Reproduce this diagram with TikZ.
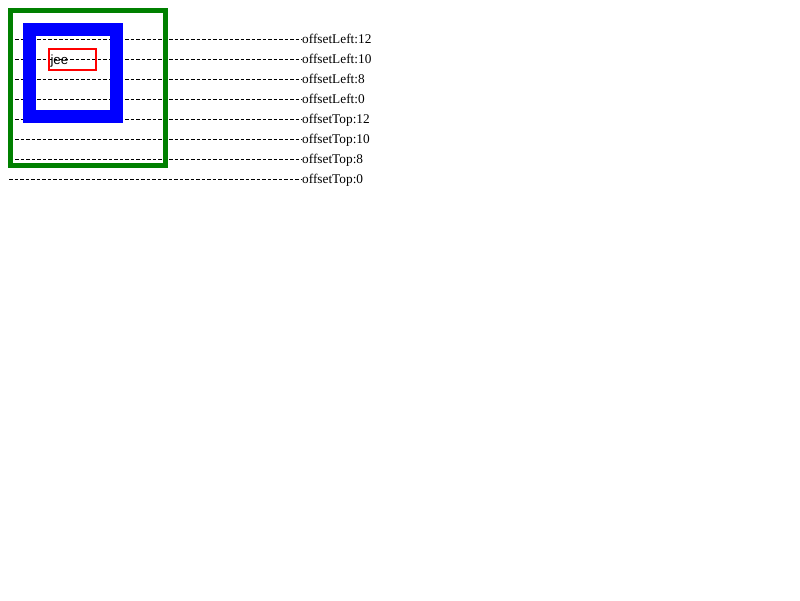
\documentclass[tikz,border=0pt]{standalone}
\usepackage{fontspec}
\setmainfont{Liberation Serif}
\newfontfamily\jeefont{Liberation Sans}
\definecolor{boxgreen}{RGB}{0,128,0}
\definecolor{boxblue}{RGB}{0,0,255}
\definecolor{boxred}{RGB}{255,0,0}
\begin{document}
\begin{tikzpicture}[x=1pt,y=-1pt,
  dashline/.style={line width=1pt,dash pattern=on 3.7pt off 1.8pt},
  lbl/.style={anchor=base west,inner sep=0pt,font=\fontsize{13.3}{15}\selectfont},
  greenbox/.style={draw=boxgreen,line width=4.6pt},
  bluebox/.style={draw=boxblue,line width=12.7pt},
  redbox/.style={draw=boxred,line width=2pt,outer sep=0pt,inner sep=0pt}]
\useasboundingbox (0,0) rectangle (800,600);
% labels and dashed lines
\foreach \i/\yy/\xs/\t in {1/39.5/15/offsetLeft:12, 2/59.5/15/offsetLeft:10, 3/79.5/15/offsetLeft:8, 4/99.5/15/offsetLeft:0, 5/119.5/15/offsetTop:12, 6/139.5/15/offsetTop:10, 7/159.5/15/offsetTop:8, 8/179.5/9/offsetTop:0}{
  \node[lbl] (l\i) at (302,\yy+3.6) {\t};
  \coordinate (s\i) at (\xs,\yy);
  \draw[dashline] (s\i) -- (s\i -| l\i.west);
}
% boxes
\draw[greenbox] (10.5,10.5) rectangle (165.2,165.2);
\draw[bluebox] (29.5,29.4) rectangle (116.5,116.4);
\node[redbox,minimum width=47pt,minimum height=21pt,anchor=north west] (red) at (49.3,49.3) {};
\node[anchor=base west,inner sep=0pt,font=\jeefont\fontsize{13.3}{15}\selectfont] (jee) at (50.3,64.8) {jee};
\end{tikzpicture}
\end{document}
